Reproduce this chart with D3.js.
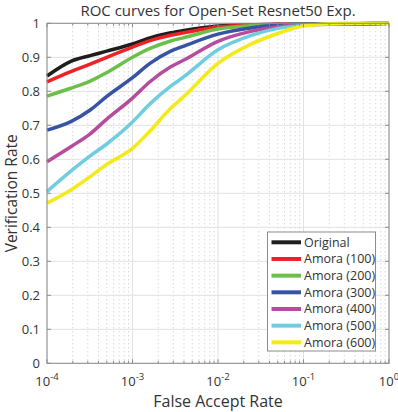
<!DOCTYPE html>
<html>
<head>
<meta charset="utf-8">
<script src="https://cdn.jsdelivr.net/npm/d3@7"></script>
<style>
  body { margin: 0; background: #fff; }
  svg text { font-family: "Open Sans", "Noto Sans", sans-serif; fill: #333; }
</style>
</head>
<body>
<div id="chart"></div>
<script>
// False accept rate sample points
const far = [1e-4, 1.9e-4, 3.2e-4, 5e-4, 1e-3, 1.6e-3, 2.8e-3, 4e-3, 1e-2, 2.5e-2, 5e-2, 1e-1, 3e-1, 1];

// Verification rate of each run
const original = [0.845, 0.888, 0.905, 0.918, 0.939, 0.957, 0.972, 0.979, 0.992, 0.996, 0.997, 0.998, 0.998, 1.0];
const amora100 = [0.828, 0.858, 0.88, 0.9, 0.93, 0.949, 0.965, 0.972, 0.989, 0.995, 0.997, 0.998, 0.998, 1.0];
const amora200 = [0.786, 0.809, 0.83, 0.855, 0.9, 0.926, 0.948, 0.958, 0.983, 0.993, 0.996, 0.998, 0.998, 1.0];
const amora300 = [0.686, 0.711, 0.745, 0.785, 0.84, 0.882, 0.918, 0.933, 0.968, 0.987, 0.994, 0.997, 0.998, 1.0];
const amora400 = [0.593, 0.637, 0.675, 0.718, 0.78, 0.828, 0.872, 0.892, 0.947, 0.977, 0.99, 0.996, 0.998, 1.0];
const amora500 = [0.505, 0.565, 0.61, 0.645, 0.71, 0.763, 0.815, 0.843, 0.922, 0.965, 0.985, 0.994, 0.999, 1.0];
const amora600 = [0.471, 0.51, 0.549, 0.585, 0.632, 0.683, 0.75, 0.785, 0.882, 0.94, 0.97, 0.992, 1.0, 1.0];

const seriesNames = ["Original", "Amora (100)", "Amora (200)", "Amora (300)", "Amora (400)", "Amora (500)", "Amora (600)"];
const seriesValues = [original, amora100, amora200, amora300, amora400, amora500, amora600];
const colors = ["#1e1e1e", "#ec2227", "#6cbf4b", "#3853a4", "#b54c9d", "#6fcde0", "#f3ea1a"];

const xTicks = [1e-4, 1e-3, 1e-2, 1e-1, 1];
const xExp = ["-4", "-3", "-2", "-1", "0"];
const yTicks = [0, 0.1, 0.2, 0.3, 0.4, 0.5, 0.6, 0.7, 0.8, 0.9, 1];

const W = 398, H = 412;
const margin = { top: 23.3, right: 9, bottom: 48.7, left: 47 };
const width = W - margin.left - margin.right;
const height = H - margin.top - margin.bottom;

const svg = d3.select("#chart").append("svg")
    .attr("width", W)
    .attr("height", H);

const g = svg.append("g")
    .attr("transform", `translate(${margin.left},${margin.top})`);

const x = d3.scaleLog().domain([1e-4, 1]).range([0, width]);
const y = d3.scaleLinear().domain([0, 1]).range([height, 0]);

// minor x positions (2..9 of each decade)
const minor = [];
for (let e = -4; e < 0; e++) {
    for (let k = 2; k <= 9; k++) minor.push(k * Math.pow(10, e));
}

// dotted minor grid
g.selectAll(".minor-grid")
    .data(minor)
    .enter().append("line")
    .attr("x1", d => x(d)).attr("x2", d => x(d))
    .attr("y1", 0).attr("y2", height)
    .attr("stroke", "#c8c8c8")
    .attr("stroke-width", 1)
    .attr("stroke-dasharray", "1,3");

// major grid
g.selectAll(".xgrid")
    .data(xTicks)
    .enter().append("line")
    .attr("x1", d => x(d)).attr("x2", d => x(d))
    .attr("y1", 0).attr("y2", height)
    .attr("stroke", "#e2e2e2");

g.selectAll(".ygrid")
    .data(yTicks)
    .enter().append("line")
    .attr("x1", 0).attr("x2", width)
    .attr("y1", d => y(d)).attr("y2", d => y(d))
    .attr("stroke", "#e2e2e2");

// curves
const line = d3.line()
    .x((d, i) => x(far[i]))
    .y(d => y(d))
    .curve(d3.curveMonotoneX);

seriesValues.forEach(function(vals, s) {
    g.append("path")
        .datum(vals)
        .attr("fill", "none")
        .attr("stroke", colors[s])
        .attr("stroke-width", 3.5)
        .attr("d", line);
});

// axes box
const axisColor = "#8c8c8c";
g.append("rect")
    .attr("width", width).attr("height", height)
    .attr("fill", "none")
    .attr("stroke", axisColor)
    .attr("stroke-width", 1);

// x ticks (inward, bottom and top)
[height, 0].forEach(function(base) {
    const dir = base === 0 ? 1 : -1;
    g.selectAll(null).data(xTicks).enter().append("line")
        .attr("x1", d => x(d)).attr("x2", d => x(d))
        .attr("y1", base).attr("y2", base + dir * 4)
        .attr("stroke", axisColor);
    g.selectAll(null).data(minor).enter().append("line")
        .attr("x1", d => x(d)).attr("x2", d => x(d))
        .attr("y1", base).attr("y2", base + dir * 2.5)
        .attr("stroke", axisColor);
});

// y ticks (inward, left and right)
[0, width].forEach(function(base) {
    const dir = base === 0 ? 1 : -1;
    g.selectAll(null).data(yTicks).enter().append("line")
        .attr("x1", base).attr("x2", base + dir * 4)
        .attr("y1", d => y(d)).attr("y2", d => y(d))
        .attr("stroke", axisColor);
});

// y tick labels
g.selectAll(".ylab")
    .data(yTicks)
    .enter().append("text")
    .attr("x", -7)
    .attr("y", d => y(d))
    .attr("dy", "0.35em")
    .attr("text-anchor", "end")
    .attr("font-size", 13)
    .text(d => d === 0 || d === 1 ? d3.format("d")(d) : d3.format(".1f")(d));

// x tick labels with superscripts
const xl = g.selectAll(".xlab")
    .data(xTicks)
    .enter().append("text")
    .attr("x", d => x(d))
    .attr("y", height + 23)
    .attr("text-anchor", "middle")
    .attr("font-size", 13);
xl.append("tspan").text("10");
xl.append("tspan")
    .attr("dy", -6)
    .attr("font-size", 9.5)
    .text((d, i) => xExp[i]);

// title and axis labels
svg.append("text")
    .attr("x", margin.left + width / 2)
    .attr("y", 16)
    .attr("text-anchor", "middle")
    .attr("font-size", 15)
    .text("ROC curves for Open-Set Resnet50 Exp.");

svg.append("text")
    .attr("x", margin.left + width / 2)
    .attr("y", 407)
    .attr("text-anchor", "middle")
    .attr("font-size", 16)
    .text("False Accept Rate");

svg.append("text")
    .attr("transform", `translate(17,${margin.top + height / 2}) rotate(-90)`)
    .attr("text-anchor", "middle")
    .attr("font-size", 15.5)
    .text("Verification Rate");

// legend
const legend = svg.append("g").attr("transform", "translate(267.5,232)");
legend.append("rect")
    .attr("width", 108).attr("height", 119)
    .attr("fill", "#fff")
    .attr("stroke", axisColor);

const rows = legend.selectAll(".row")
    .data(seriesNames)
    .enter().append("g")
    .attr("transform", (d, i) => `translate(0,${10.3 + i * 16.67})`);
rows.append("line")
    .attr("x1", 4).attr("x2", 33.5)
    .attr("stroke", (d, i) => colors[i])
    .attr("stroke-width", 4);
rows.append("text")
    .attr("x", 36.5)
    .attr("dy", "0.35em")
    .attr("font-size", 12.5)
    .text(d => d);
</script>
</body>
</html>
